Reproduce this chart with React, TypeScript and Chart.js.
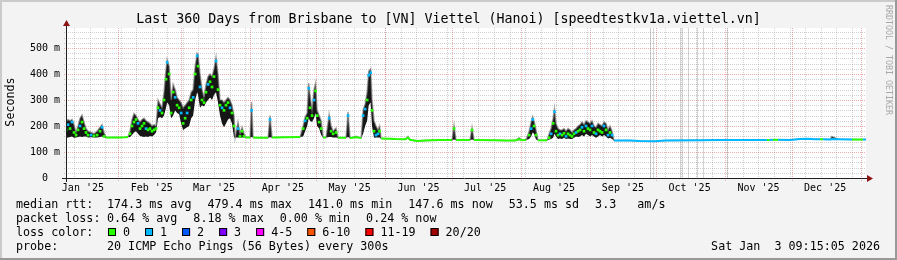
import React, { useEffect, useRef } from "react";
import { Chart, registerables } from "chart.js";

Chart.register(...registerables);

const W = 897;
const H = 260;

const TITLE = "Last 360 Days from Brisbane to [VN] Viettel (Hanoi) [speedtestkv1a.viettel.vn]";
const Y_LABEL = "Seconds";
const WATERMARK = "RRDTOOL / TOBI OETIKER";
const DATE_TEXT = "Sat Jan  3 09:15:05 2026";

// x axis: days since 1 Jan 2025 (graph ends Sat Jan 3 2026 09:15, spans 360 days)
const X_MIN = 7.39;
const X_MAX = 367.39;
const Y_MAX = 576.9; // ms

const monthStarts = [0, 31, 59, 90, 120, 151, 181, 212, 243, 273, 304, 334, 365];
const monthLabels = ["Jan '25", "Feb '25", "Mar '25", "Apr '25", "May '25", "Jun '25", "Jul '25", "Aug '25", "Sep '25", "Oct '25", "Nov '25", "Dec '25"];
const firstWeekDay = 11;
const yMajorTicks = [0, 100, 200, 300, 400, 500];
const yTickLabels = ["0  ", "100 m", "200 m", "300 m", "400 m", "500 m"];

// sample times (days since 1 Jan 2025)
const days = [
  7.4, 8.3, 9.2, 10.1, 11.0, 11.9, 12.8, 13.7, 14.6, 15.5,
  16.4, 17.3, 18.7, 20.0, 21.4, 22.7, 23.6, 24.5, 25.4, 27.2,
  31.7, 34.0, 35.3, 36.2, 37.1, 38.0, 38.9, 39.8, 40.7, 41.6,
  42.5, 43.4, 44.3, 45.2, 46.1, 47.0, 47.9, 48.8, 49.7, 50.6,
  51.5, 52.4, 52.9, 53.8, 54.7, 55.6, 56.5, 57.4, 58.3, 59.2,
  60.1, 61.0, 61.9, 62.8, 63.7, 64.6, 65.5, 66.4, 66.8, 67.7,
  68.6, 69.5, 70.4, 71.3, 72.2, 73.1, 74.0, 74.9, 75.8, 76.7,
  77.6, 78.5, 79.4, 80.3, 81.2, 82.1, 83.0, 83.5, 84.8, 85.7,
  86.6, 87.5, 88.4, 90.2, 90.9, 91.6, 94.7, 98.3, 99.2, 100.1,
  106.0, 112.7, 114.1, 115.0, 115.9, 116.6, 117.2, 118.1, 119.0, 119.7,
  120.4, 121.3, 122.2, 123.1, 124.4, 125.8, 126.7, 127.6, 128.9, 129.8,
  133.4, 134.3, 135.2, 137.9, 140.2, 141.1, 142.0, 142.9, 143.6, 144.5,
  145.1, 146.0, 146.9, 147.8, 148.5, 149.2, 153.3, 155.5, 160.0, 161.3,
  162.2, 165.4, 169.0, 175.7, 181.1, 182.0, 182.9, 189.2, 190.1, 191.0,
  200.5, 205.0, 209.5, 211.3, 212.6, 214.4, 215.8, 216.7, 217.4, 218.0,
  218.9, 219.8, 223.9, 224.8, 225.7, 226.6, 227.2, 227.9, 228.8, 229.7,
  230.6, 231.5, 232.4, 233.3, 234.2, 235.1, 236.0, 236.9, 237.8, 238.7,
  239.6, 240.5, 241.4, 242.3, 243.2, 244.1, 245.0, 245.9, 246.8, 247.7,
  248.6, 249.5, 250.4, 251.3, 252.2, 253.1, 254.0, 261.2, 265.7, 272.5,
  277.0, 292.7, 301.7, 319.7, 322.8, 324.0, 325.5, 327.8, 333.2, 337.7,
  341.0, 344.4, 346.7, 348.0, 351.2, 352.0, 355.0, 361.1, 366.0, 367.39,
];

// lower edge of the ping smoke (ms)
const smokeLowMs = [
  154, 156, 158, 160, 155, 156, 158, 160, 158, 160,
  160, 156, 157, 156, 156, 158, 160, 156, 156, 156,
  156, 157, 158, 158, 165, 175, 180, 170, 162, 160,
  158, 160, 158, 162, 160, 165, 175, 230, 235, 230,
  240, 270, 290, 280, 230, 240, 260, 250, 245, 210,
  185, 190, 195, 200, 230, 240, 300, 330, 320, 270,
  280, 275, 290, 300, 310, 300, 320, 330, 290, 240,
  210, 195, 210, 225, 230, 210, 156, 156, 156, 156,
  156, 156, 156, 156, 158, 156, 155, 155, 157, 156,
  157, 158, 160, 180, 200, 230, 220, 215, 230, 250,
  200, 190, 165, 156, 156, 158, 158, 156, 156, 155,
  155, 158, 154, 155, 154, 170, 200, 220, 280, 290,
  200, 155, 156, 156, 156, 152, 151, 150, 149, 150,
  147, 142, 144, 146, 146, 148, 146, 146, 148, 146,
  145, 144, 144, 145, 145, 146, 150, 160, 175, 170,
  148, 145, 145, 148, 150, 155, 170, 160, 150, 152,
  150, 155, 150, 152, 150, 150, 155, 160, 158, 160,
  165, 160, 170, 165, 160, 165, 160, 155, 160, 165,
  160, 165, 160, 152, 155, 150, 144, 144, 142, 141,
  144, 145, 146, 146, 146, 146, 147, 147, 146, 150,
  151, 149, 149, 149, 148, 148, 149, 148, 148, 147.6,
];

// upper edge of the ping smoke (ms)
const smokeHighMs = [
  215, 225, 220, 225, 205, 175, 200, 230, 242, 215,
  190, 180, 175, 170, 180, 195, 205, 175, 156, 156,
  156, 157, 158, 180, 225, 248, 240, 225, 215, 225,
  230, 220, 215, 210, 200, 205, 200, 300, 285, 270,
  330, 420, 455, 430, 300, 360, 340, 310, 300, 290,
  270, 280, 290, 300, 330, 340, 430, 480, 475, 400,
  340, 310, 360, 390, 400, 390, 420, 465, 400, 300,
  300, 290, 300, 310, 300, 280, 240, 156, 215, 170,
  195, 170, 156, 156, 293, 156, 155, 155, 240, 156,
  157, 158, 200, 235, 250, 365, 320, 260, 340, 365,
  260, 240, 220, 156, 156, 245, 200, 180, 192, 155,
  155, 255, 154, 160, 154, 262, 285, 330, 410, 420,
  300, 220, 200, 185, 200, 152, 151, 150, 149, 160,
  147, 142, 144, 146, 146, 204, 146, 146, 195, 146,
  145, 144, 144, 155, 145, 146, 180, 215, 236, 220,
  185, 145, 145, 170, 190, 230, 268, 210, 190, 185,
  185, 190, 180, 190, 185, 175, 185, 190, 200, 205,
  215, 205, 220, 215, 210, 220, 200, 195, 210, 205,
  200, 215, 210, 185, 200, 180, 144, 144, 142, 141,
  144, 145, 146, 146, 146, 146, 147, 147, 146, 150,
  151, 149, 149, 149, 148, 160, 149, 148, 148, 147.6,
];

// median round trip time (ms)
const medianMs = [
  185, 205, 190, 215, 175, 165, 185, 200, 215, 190,
  175, 165, 165, 162, 165, 180, 195, 160, 156, 156,
  156, 157, 158, 170, 200, 215, 225, 210, 190, 200,
  210, 190, 185, 190, 180, 185, 190, 270, 260, 250,
  300, 380, 445, 400, 250, 330, 310, 280, 270, 250,
  210, 230, 250, 270, 300, 310, 400, 470, 430, 350,
  300, 290, 330, 360, 370, 350, 390, 450, 340, 280,
  270, 260, 280, 290, 270, 250, 200, 156, 190, 160,
  180, 160, 156, 156, 260, 156, 155, 155, 225, 156,
  157, 158, 190, 220, 230, 345, 270, 240, 300, 335,
  240, 215, 190, 156, 156, 230, 180, 170, 175, 155,
  155, 240, 154, 157, 154, 240, 265, 300, 395, 405,
  260, 180, 165, 170, 180, 152, 151, 150, 149, 155,
  147, 142, 144, 146, 146, 190, 146, 146, 185, 146,
  145, 144, 144, 150, 145, 146, 165, 190, 225, 200,
  165, 145, 145, 155, 170, 210, 255, 180, 165, 170,
  165, 172, 160, 170, 165, 160, 170, 175, 180, 185,
  195, 180, 200, 190, 185, 200, 175, 170, 185, 180,
  175, 200, 185, 165, 175, 165, 144, 144, 142, 141,
  144, 145, 146, 146, 146, 146, 147, 147, 146, 150,
  151, 149, 149, 149, 148, 150, 149, 148, 148, 147.6,
];

// packet loss bucket index (0 = no loss, 1 = 1 of 20 lost)
const lossBucket = [
  0, 1, 0, 1, 0, 0, 0, 1, 0, 0,
  0, 0, 1, 0, 0, 0, 1, 0, 0, 0,
  0, 0, 0, 0, 0, 0, 0, 1, 0, 0,
  0, 1, 0, 0, 0, 0, 0, 0, 1, 0,
  0, 0, 1, 0, 0, 0, 1, 0, 0, 1,
  0, 0, 1, 0, 0, 1, 0, 1, 0, 1,
  0, 0, 0, 1, 0, 0, 0, 1, 0, 0,
  1, 0, 0, 0, 1, 0, 0, 0, 1, 0,
  0, 0, 0, 0, 1, 0, 0, 0, 1, 0,
  0, 0, 0, 1, 0, 1, 0, 0, 1, 0,
  0, 0, 0, 0, 0, 1, 0, 0, 0, 0,
  0, 1, 0, 0, 0, 1, 1, 0, 1, 1,
  0, 0, 1, 1, 0, 0, 0, 0, 0, 0,
  0, 0, 0, 0, 0, 0, 0, 0, 0, 0,
  0, 0, 0, 0, 0, 0, 0, 1, 1, 0,
  0, 0, 0, 0, 1, 0, 1, 0, 0, 1,
  0, 0, 1, 0, 0, 0, 0, 1, 0, 0,
  1, 0, 1, 0, 0, 1, 0, 1, 0, 0,
  0, 1, 0, 1, 0, 1, 1, 1, 1, 1,
  1, 1, 1, 1, 0, 1, 0, 1, 1, 1,
  1, 1, 0, 1, 1, 1, 1, 0, 1, 1,
];

// periods with unknown samples (drawn as faint full-height lines)
const unknownDays = [270.2, 271.5, 283.7, 284.6, 287.3, 291.3, 294.0, 304.8];

const lossColors = ["#26ff00", "#00b8ff", "#0059ff", "#7e00ff", "#ff00ff", "#ff5500", "#ff0000", "#a10000"];
const lossLabels = ["0", "1", "2", "3", "4-5", "6-10", "11-19", "20/20"];

const medianLine = ["median rtt:", ["174.3 ms avg", "479.4 ms max", "141.0 ms min", "147.6 ms now", "53.5 ms sd", "3.3   am/s"]] as const;
const lossLine = ["packet loss:", ["0.64 % avg", "8.18 % max", "0.00 % min", "0.24 % now"]] as const;
const LOSS_COLOR_LABEL = "loss color:";
const PROBE_LABEL = "probe:";
const PROBE_TEXT = "20 ICMP Echo Pings (56 Bytes) every 300s";

const MONO = '"DejaVu Sans Mono", "Liberation Mono", monospace';

const hasSmoke = (i: number) => smokeHighMs[i] - smokeLowMs[i] > 12;

const decorPlugin = {
  id: "rrdDecor",
  beforeDraw(chart: any) {
    const ctx = chart.ctx as CanvasRenderingContext2D;
    const ca = chart.chartArea;
    const xs = chart.scales.x;
    const ys = chart.scales.y;
    ctx.save();
    ctx.fillStyle = "#f3f3f3";
    ctx.fillRect(0, 0, W, H);
    ctx.fillStyle = "#cbcbcb";
    ctx.fillRect(0, 0, W, 2);
    ctx.fillRect(0, 0, 2, H);
    ctx.fillStyle = "#999999";
    ctx.fillRect(0, H - 2, W, 2);
    ctx.fillRect(W - 2, 0, 2, H);
    ctx.fillStyle = "#ffffff";
    ctx.fillRect(ca.left, ca.top, ca.right - ca.left, ca.bottom - ca.top);

    const hLine = (v: number, color: string, ext: number) => {
      const y = Math.round(ys.getPixelForValue(v)) + 0.5;
      ctx.strokeStyle = color;
      ctx.beginPath();
      ctx.moveTo(ca.left - ext, y);
      ctx.lineTo(ca.right, y);
      ctx.stroke();
    };
    const vLine = (d: number, color: string, ext: number) => {
      const x = Math.round(xs.getPixelForValue(d)) + 0.5;
      ctx.strokeStyle = color;
      ctx.beginPath();
      ctx.moveTo(x, ca.top);
      ctx.lineTo(x, ca.bottom + ext);
      ctx.stroke();
    };
    ctx.lineWidth = 1;
    ctx.setLineDash([]);
    unknownDays.forEach((d) => vLine(d, "#d4d4d4", 0));

    ctx.setLineDash([1, 1]);
    const minorC = "rgba(143,143,143,0.42)";
    const majorC = "rgba(222,80,80,0.46)";
    for (let v = 20; v < Y_MAX; v += 20) {
      if (v % 100 !== 0) hLine(v, minorC, 2);
    }
    for (let d = firstWeekDay; d <= X_MAX; d += 7) vLine(d, minorC, 2);
    yMajorTicks.forEach((v) => {
      if (v > 0) hLine(v, majorC, 2);
    });
    monthStarts.forEach((d) => {
      if (d > X_MIN && d < X_MAX) vLine(d, majorC, 3);
    });
    ctx.restore();
  },
  afterDatasetsDraw(chart: any) {
    const ctx = chart.ctx as CanvasRenderingContext2D;
    const ca = chart.chartArea;
    ctx.save();
    ctx.setLineDash([]);
    ctx.strokeStyle = "#202020";
    ctx.lineWidth = 1;
    const yAx = ca.bottom + 0.5;
    const xAx = ca.left + 0.5;
    ctx.beginPath();
    ctx.moveTo(ca.left - 4, yAx);
    ctx.lineTo(ca.right + 1, yAx);
    ctx.moveTo(xAx, ca.bottom + 4);
    ctx.lineTo(xAx, ca.top - 2);
    ctx.stroke();
    ctx.fillStyle = "#8e1414";
    ctx.beginPath();
    ctx.moveTo(ca.right + 1, yAx - 3.5);
    ctx.lineTo(ca.right + 7, yAx);
    ctx.lineTo(ca.right + 1, yAx + 3.5);
    ctx.closePath();
    ctx.fill();
    ctx.beginPath();
    ctx.moveTo(xAx - 3.5, ca.top - 2);
    ctx.lineTo(xAx, ca.top - 8);
    ctx.lineTo(xAx + 3.5, ca.top - 2);
    ctx.closePath();
    ctx.fill();
    ctx.restore();
  },
  afterDraw(chart: any) {
    const ctx = chart.ctx as CanvasRenderingContext2D;
    const xs = chart.scales.x;
    const ys = chart.scales.y;
    ctx.save();
    ctx.fillStyle = "#000";
    ctx.font = `13.3px ${MONO}`;
    ctx.textAlign = "center";
    ctx.textBaseline = "alphabetic";
    ctx.fillText(TITLE, W / 2, 23);
    ctx.font = `10px ${MONO}`;
    ctx.textAlign = "right";
    ctx.textBaseline = "middle";
    yMajorTicks.forEach((v, i) => ctx.fillText(yTickLabels[i], 60, ys.getPixelForValue(v) + 0.5));
    ctx.textAlign = "center";
    ctx.textBaseline = "alphabetic";
    monthLabels.forEach((lab, i) => {
      ctx.fillText(lab, xs.getPixelForValue(monthStarts[i] + 15), 191);
    });
    ctx.save();
    ctx.font = `11.7px ${MONO}`;
    ctx.translate(11, 102);
    ctx.rotate(-Math.PI / 2);
    ctx.textAlign = "center";
    ctx.textBaseline = "middle";
    ctx.fillText(Y_LABEL, 0, 0);
    ctx.restore();
    ctx.save();
    ctx.font = `8.3px ${MONO}`;
    ctx.fillStyle = "#a8a8a8";
    ctx.translate(888, 60);
    ctx.rotate(Math.PI / 2);
    ctx.textAlign = "center";
    ctx.textBaseline = "middle";
    ctx.fillText(WATERMARK, 0, 0);
    ctx.restore();
    ctx.font = `11.7px ${MONO}`;
    ctx.textAlign = "left";
    ctx.textBaseline = "alphabetic";
    const rowItems = (label: string, items: readonly string[], y: number) => {
      ctx.fillText(label, 16, y);
      let x = 107;
      items.forEach((it) => {
        ctx.fillText(it, x, y);
        x += ctx.measureText(it).width + 16;
      });
    };
    rowItems(medianLine[0], medianLine[1], 208);
    rowItems(lossLine[0], lossLine[1], 222);
    ctx.fillText(LOSS_COLOR_LABEL, 16, 236);
    let bx = 108;
    lossLabels.forEach((lab, i) => {
      ctx.fillStyle = lossColors[i];
      ctx.fillRect(bx, 228, 8, 8);
      ctx.strokeStyle = "#000";
      ctx.lineWidth = 1;
      ctx.strokeRect(bx + 0.5, 228.5, 7, 7);
      ctx.fillStyle = "#000";
      ctx.fillText(lab, bx + 15, 236);
      bx += 15 + ctx.measureText(lab).width + 15;
    });
    ctx.fillText(PROBE_LABEL, 16, 250);
    ctx.fillText(PROBE_TEXT, 107, 250);
    ctx.textAlign = "right";
    ctx.fillText(DATE_TEXT, 880, 250);
    ctx.restore();
  },
};

export default function App() {
  const ref = useRef<HTMLCanvasElement>(null);
  useEffect(() => {
    const canvas = ref.current;
    if (!canvas) return;
    const pts = (arr: number[]) => days.map((d, i) => ({ x: d, y: arr[i] }));
    const chart = new Chart(canvas, {
      type: "line",
      data: {
        datasets: [
          {
            label: "median",
            data: pts(medianMs),
            borderWidth: 2,
            borderColor: lossColors[0],
            pointStyle: "rect",
            pointRadius: lossBucket.map((_, i) => (hasSmoke(i) ? 1.9 : 0)),
            pointBorderWidth: 0,
            pointBackgroundColor: lossBucket.map((l) => lossColors[l]),
            fill: false,
            tension: 0,
            order: 0,
            segment: {
              borderColor: (c: any) =>
                hasSmoke(c.p0DataIndex) || hasSmoke(c.p1DataIndex) || Math.abs(c.p1.y - c.p0.y) > 3
                  ? "rgba(0,0,0,0)"
                  : lossColors[lossBucket[c.p0DataIndex]],
            },
          } as any,
          {
            label: "smokeLow",
            data: pts(smokeLowMs),
            borderWidth: 0,
            borderColor: "rgba(0,0,0,0)",
            pointRadius: 0,
            fill: false,
            tension: 0,
            order: 2,
          },
          {
            label: "smokeHigh",
            data: pts(smokeHighMs),
            borderWidth: 1.5,
            borderColor: "rgba(120,120,120,0.6)",
            backgroundColor: "#161616",
            pointRadius: 0,
            fill: "-1",
            tension: 0,
            order: 1,
          },
        ],
      },
      options: {
        animation: false,
        responsive: false,
        devicePixelRatio: 1,
        events: [],
        layout: { padding: { left: 66, right: W - 866, top: 28, bottom: H - 178 } },
        scales: {
          x: { type: "linear", min: X_MIN, max: X_MAX, display: false },
          y: { type: "linear", min: 0, max: Y_MAX, display: false },
        },
        plugins: { legend: { display: false }, tooltip: { enabled: false } },
      },
      plugins: [decorPlugin],
    });
    return () => chart.destroy();
  }, []);
  return (
    <div style={{ position: "fixed", left: 0, top: 0, width: W, height: H }}>
      <canvas ref={ref} width={W} height={H} style={{ display: "block", width: W, height: H }} />
    </div>
  );
}
